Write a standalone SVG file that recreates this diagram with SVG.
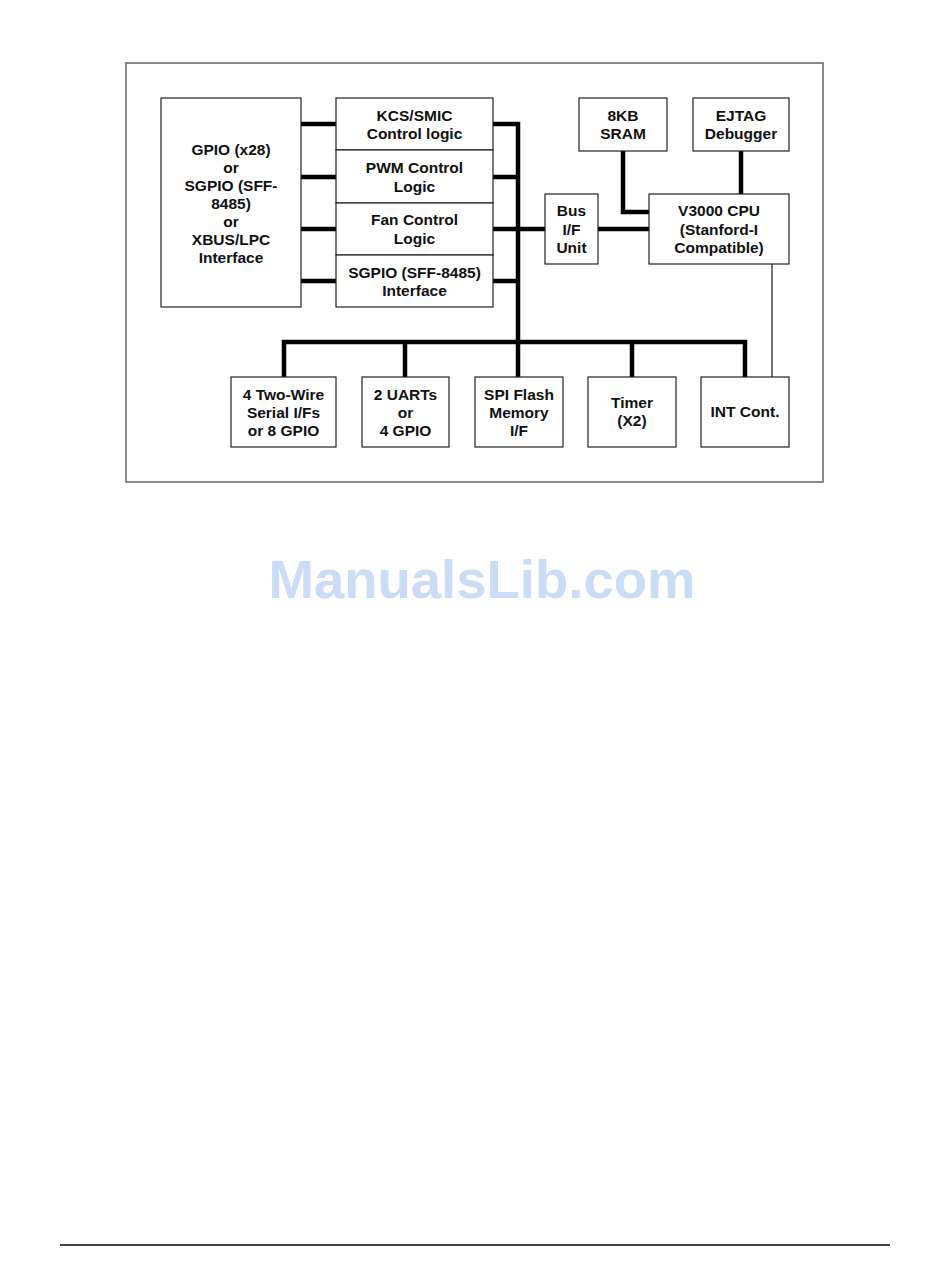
<svg xmlns="http://www.w3.org/2000/svg" width="950" height="1267" viewBox="0 0 950 1267">
<style>
.box{fill:#fff;stroke:#222;stroke-width:1.2}
.t{font-family:"Liberation Sans",Arial,sans-serif;font-weight:bold;font-size:15.5px;fill:#111;text-anchor:middle}
.bus{fill:none;stroke:#000;stroke-width:4.5;stroke-linecap:round;stroke-linejoin:miter}
.thin{fill:none;stroke:#000;stroke-width:1.1}
</style>
<rect width="950" height="1267" fill="#fff"/>
<rect x="126" y="63" width="697" height="419" fill="none" stroke="#666" stroke-width="1.5"/>
<g id="connectors">
<path class="bus" d="M301 124H336M301 177H336M301 229H336M301 281H336"/>
<path class="bus" d="M493 124H518V342M493 177H518M493 229H518M493 281H518"/>
<path class="bus" d="M284 377V342H745V377M405 342V377M518 342V377M632 342V377"/>
<path class="bus" d="M518 229H545M598 229H649"/>
<path class="bus" d="M623 151V212H649"/>
<path class="bus" d="M741 151V194"/>
<path class="thin" d="M772 264V377"/>
</g>
<g id="gpio"><rect class="box" x="161" y="98" width="140" height="209"/>
<text class="t" x="231" y="154.5">GPIO (x28)</text><text class="t" x="231" y="172.6">or</text><text class="t" x="231" y="190.7">SGPIO (SFF-</text><text class="t" x="231" y="208.8">8485)</text><text class="t" x="231" y="226.9">or</text><text class="t" x="231" y="245">XBUS/LPC</text><text class="t" x="231" y="263">Interface</text></g>
<g id="kcs"><rect class="box" x="336" y="98" width="157" height="52"/>
<text class="t" x="414.5" y="121">KCS/SMIC</text><text class="t" x="414.5" y="139">Control logic</text></g>
<g id="pwm"><rect class="box" x="336" y="150" width="157" height="53"/>
<text class="t" x="414.5" y="173">PWM Control</text><text class="t" x="414.5" y="191.5">Logic</text></g>
<g id="fan"><rect class="box" x="336" y="203" width="157" height="52"/>
<text class="t" x="414.5" y="225">Fan Control</text><text class="t" x="414.5" y="243.5">Logic</text></g>
<g id="sgpio"><rect class="box" x="336" y="255" width="157" height="52"/>
<text class="t" x="414.5" y="278">SGPIO (SFF-8485)</text><text class="t" x="414.5" y="296">Interface</text></g>
<g id="sram"><rect class="box" x="579" y="98" width="88" height="53"/>
<text class="t" x="623" y="121">8KB</text><text class="t" x="623" y="139">SRAM</text></g>
<g id="ejtag"><rect class="box" x="693" y="98" width="96" height="53"/>
<text class="t" x="741" y="121">EJTAG</text><text class="t" x="741" y="139">Debugger</text></g>
<g id="busif"><rect class="box" x="545" y="194" width="53" height="70"/>
<text class="t" x="571.5" y="216">Bus</text><text class="t" x="571.5" y="234.5">I/F</text><text class="t" x="571.5" y="253">Unit</text></g>
<g id="cpu"><rect class="box" x="649" y="194" width="140" height="70"/>
<text class="t" x="719" y="216">V3000 CPU</text><text class="t" x="719" y="234.5">(Stanford-I</text><text class="t" x="719" y="253">Compatible)</text></g>
<g id="twowire"><rect class="box" x="231" y="377" width="105" height="70"/>
<text class="t" x="283.5" y="399.5">4 Two-Wire</text><text class="t" x="283.5" y="418">Serial I/Fs</text><text class="t" x="283.5" y="436">or 8 GPIO</text></g>
<g id="uarts"><rect class="box" x="362" y="377" width="87" height="70"/>
<text class="t" x="405.5" y="399.5">2 UARTs</text><text class="t" x="405.5" y="418">or</text><text class="t" x="405.5" y="436">4 GPIO</text></g>
<g id="spi"><rect class="box" x="475" y="377" width="88" height="70"/>
<text class="t" x="519" y="399.5">SPI Flash</text><text class="t" x="519" y="418">Memory</text><text class="t" x="519" y="436">I/F</text></g>
<g id="timer"><rect class="box" x="588" y="377" width="88" height="70"/>
<text class="t" x="632" y="408">Timer</text><text class="t" x="632" y="426">(X2)</text></g>
<g id="intc"><rect class="box" x="701" y="377" width="88" height="70"/>
<text class="t" x="745" y="417">INT Cont.</text></g>
<text x="482" y="598" font-family="Liberation Sans,Arial,sans-serif" font-weight="bold" font-size="54.5" fill="#cadcf6" text-anchor="middle">ManualsLib.com</text>
<line x1="60" y1="1245" x2="890" y2="1245" stroke="#000" stroke-width="1.5"/>
</svg>
